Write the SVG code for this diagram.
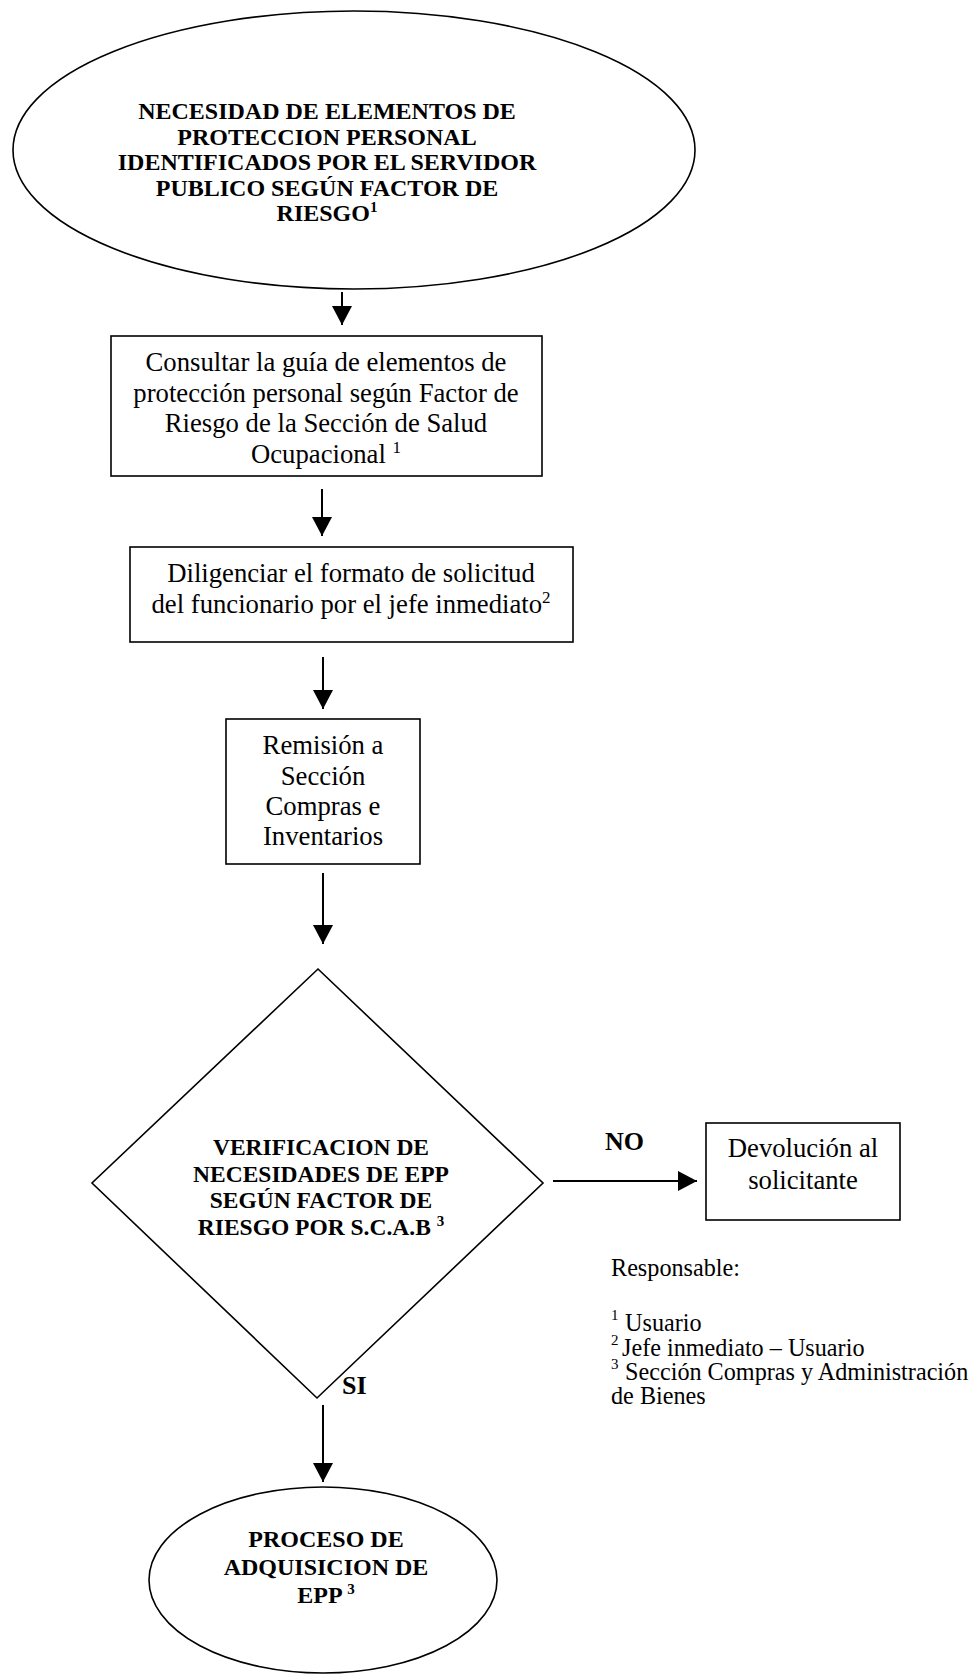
<svg xmlns="http://www.w3.org/2000/svg" width="974" height="1675" viewBox="0 0 974 1675">
<defs>
<marker id="ah" markerUnits="userSpaceOnUse" markerWidth="20" markerHeight="20" refX="19" refY="10" orient="auto">
<path d="M0,0 L19,10 L0,20 Z" fill="#000"/>
</marker>
<style>
.shape{fill:#fff;stroke:#000;stroke-width:1.6}
.conn{stroke:#000;stroke-width:2;fill:none;marker-end:url(#ah)}
.b{font-family:"Liberation Serif","Times New Roman",serif;font-weight:bold;font-size:24px;fill:#000;text-anchor:middle}
.r{font-family:"Liberation Serif","Times New Roman",serif;font-size:26.7px;fill:#000;text-anchor:middle}
.lg{font-family:"Liberation Serif","Times New Roman",serif;font-size:24.2px;fill:#000}
.sup{font-size:15px}
.lbl{font-family:"Liberation Serif","Times New Roman",serif;font-weight:bold;font-size:26px;fill:#000}
</style>
</defs>
<rect width="974" height="1675" fill="#fff"/>
<g id="connectors">
<line class="conn" x1="342" y1="292" x2="342" y2="325"/>
<line class="conn" x1="322" y1="489" x2="322" y2="536"/>
<line class="conn" x1="323" y1="657" x2="323" y2="709"/>
<line class="conn" x1="323" y1="873" x2="323" y2="944"/>
<line class="conn" x1="553" y1="1181" x2="697" y2="1181"/>
<line class="conn" x1="323" y1="1405" x2="323" y2="1482"/>
<text class="lbl" x="605" y="1150">NO</text>
<text class="lbl" x="342" y="1394">SI</text>
</g>
<g id="start">
<ellipse class="shape" cx="354" cy="150" rx="341" ry="139"/>
<text class="b" x="327" y="119">NECESIDAD DE ELEMENTOS DE</text>
<text class="b" x="327" y="144.6">PROTECCION PERSONAL</text>
<text class="b" x="327" y="170.2">IDENTIFICADOS POR EL SERVIDOR</text>
<text class="b" x="327" y="195.8">PUBLICO SEGÚN FACTOR DE</text>
<text class="b" x="327" y="221.4">RIESGO<tspan class="sup" dy="-9">1</tspan></text>
</g>
<g id="consultar">
<rect class="shape" x="111" y="336" width="431" height="140"/>
<text class="r" x="326" y="371">Consultar la guía de elementos de</text>
<text class="r" x="326" y="401.5">protección personal según Factor de</text>
<text class="r" x="326" y="432">Riesgo de la Sección de Salud</text>
<text class="r" x="326" y="463">Ocupacional <tspan style="font-size:17px" dy="-10">1</tspan></text>
</g>
<g id="diligenciar">
<rect class="shape" x="130" y="547" width="443" height="95"/>
<text class="r" x="351" y="582">Diligenciar el formato de solicitud</text>
<text class="r" x="351" y="613">del funcionario por el jefe inmediato<tspan style="font-size:17px" dy="-10">2</tspan></text>
</g>
<g id="remision">
<rect class="shape" x="226" y="719" width="194" height="145"/>
<text class="r" x="323" y="754">Remisión a</text>
<text class="r" x="323" y="785">Sección</text>
<text class="r" x="323" y="815">Compras e</text>
<text class="r" x="323" y="845">Inventarios</text>
</g>
<g id="verificacion">
<polygon class="shape" points="318,969 543,1183 317,1398 92,1183"/>
<text class="b" style="font-size:23.5px" x="321" y="1155">VERIFICACION DE</text>
<text class="b" style="font-size:23.5px" x="321" y="1182">NECESIDADES DE EPP</text>
<text class="b" style="font-size:23.5px" x="321" y="1208">SEGÚN FACTOR DE</text>
<text class="b" style="font-size:23.5px" x="321" y="1235">RIESGO POR S.C.A.B <tspan class="sup" dy="-9">3</tspan></text>
</g>
<g id="devolucion">
<rect class="shape" x="706" y="1123" width="194" height="97"/>
<text class="r" x="803" y="1157">Devolución al</text>
<text class="r" x="803" y="1189">solicitante</text>
</g>
<g id="legend">
<text class="lg" x="611" y="1276">Responsable:</text>
<text class="lg sup" x="611" y="1320">1</text>
<text class="lg" x="625" y="1331">Usuario</text>
<text class="lg sup" x="611" y="1345">2</text>
<text class="lg" x="622" y="1356">Jefe inmediato – Usuario</text>
<text class="lg sup" x="611" y="1369">3</text>
<text class="lg" x="625" y="1380">Sección Compras y Administración</text>
<text class="lg" x="611" y="1404">de Bienes</text>
</g>
<g id="fin">
<ellipse class="shape" cx="323" cy="1580" rx="174" ry="93"/>
<text class="b" x="326" y="1547">PROCESO DE</text>
<text class="b" x="326" y="1575">ADQUISICION DE</text>
<text class="b" x="326" y="1603">EPP <tspan class="sup" dy="-9">3</tspan></text>
</g>
</svg>
